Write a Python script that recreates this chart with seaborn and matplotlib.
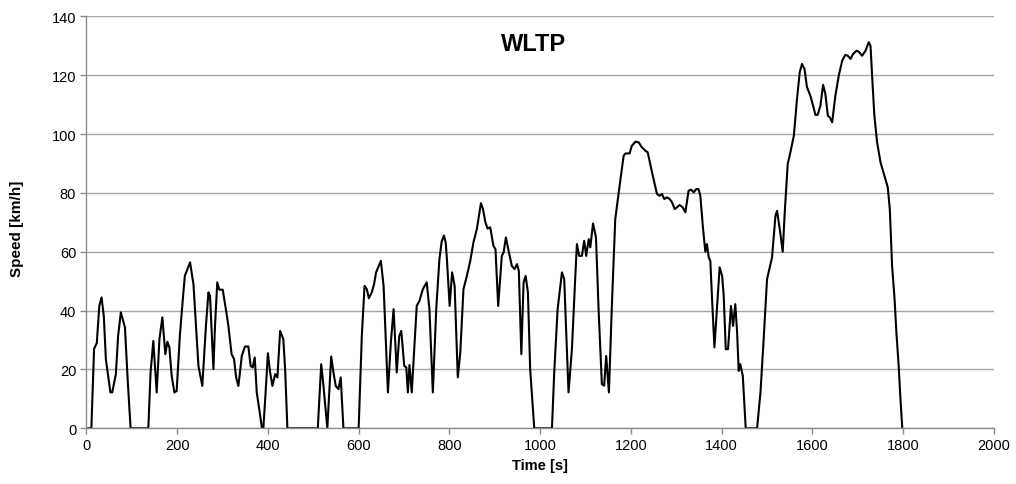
import matplotlib
matplotlib.use("Agg")
import matplotlib.pyplot as plt
import seaborn as sns
import pandas as pd

time_s = [0, 11, 17, 23, 28.5, 33.5, 38.5, 43, 48, 53, 57, 61.5, 65, 70, 76, 85, 91, 97.5,
          136.5, 141.5, 147.5, 155, 161, 167.5, 174, 178.5, 183, 188, 194, 199, 206, 212, 217,
          228.5, 236, 247, 255.5, 263.5, 269, 272.5, 280, 283.5, 288.5, 293, 300.5, 308, 313,
          320, 325.5, 330, 335, 342.5, 349.5, 357, 362, 366.5, 371, 375.5, 381, 387, 390, 395,
          400, 405, 410, 416, 421, 427, 434, 438, 443, 510, 517.5, 522.5, 531, 539.5, 544.5,
          549.5, 555.5, 560.5, 566.5, 600, 607, 613, 618, 622.5, 629, 634, 638.5, 649, 655,
          664.5, 671, 677, 684, 689.5, 694, 700.5, 705, 708.5, 712, 717, 728, 734, 741.5, 750,
          756, 763.5, 771, 778, 783, 788, 792, 794.5, 800.5, 806, 811.5, 818.5, 824, 831,
          838.5, 846, 853, 860.5, 869.5, 874, 879, 884, 890, 897, 901.5, 907.5, 915.5, 919.5,
          924.5, 930.5, 937.5, 943.5, 949, 953, 958.5, 963.5, 968, 973, 978, 987, 1026, 1031,
          1038.5, 1048, 1053, 1062.5, 1070, 1077.5, 1081, 1086, 1092, 1097, 1101.5, 1107,
          1110.5, 1116.5, 1123, 1129, 1136, 1141, 1145.5, 1151.5, 1158, 1165.5, 1176.5, 1184,
          1188, 1197, 1202, 1210, 1217, 1224, 1232, 1237, 1246.5, 1257.5, 1263, 1268.5,
          1273.5, 1279.5, 1285.5, 1290.5, 1296.5, 1301.5, 1307.5, 1314, 1320, 1327, 1332.5,
          1338.5, 1344, 1349, 1353, 1359, 1364, 1367.5, 1371.5, 1375, 1378.5, 1384, 1388.5,
          1395.5, 1401, 1404.5, 1409, 1414, 1417.5, 1420.5, 1425, 1430, 1434, 1437.5, 1441,
          1446.5, 1453, 1478, 1485.5, 1492.5, 1500, 1511, 1518.5, 1522, 1528, 1534.5, 1539,
          1545.5, 1551.5, 1559, 1566, 1572, 1577, 1582.5, 1588, 1595.5, 1601.5, 1606.5,
          1611.5, 1617.5, 1623.5, 1628.5, 1634, 1638, 1643.5, 1650.5, 1658, 1665.5, 1672.5,
          1678, 1684, 1689.5, 1697, 1702, 1709.5, 1717, 1724, 1728, 1731.5, 1736.5, 1742.5,
          1750, 1758.5, 1766, 1770.5, 1775.5, 1781, 1785, 1790, 1794, 1798]

speed_kmh = [0, 0, 27, 29, 41.6, 44.5, 38, 23.5, 17.8, 12.2, 12.2, 15.6, 18.4, 31.4, 39.4, 34.3,
             16.7, 0, 0, 19, 29.7, 12.2, 30.3, 37.7, 25.2, 29.4, 27.5, 17.8, 12.2, 12.7, 31.4,
             42.8, 51.8, 56.4, 49, 21.2, 14.4, 34.8, 46.2, 45, 20.1, 34.8, 49.6, 47.1, 47.1,
             39.9, 34.8, 25.2, 23.5, 17.3, 14.4, 24.6, 27.8, 27.8, 21.2, 20.7, 24.1, 12.2, 6.5,
             0, 0, 12.2, 25.5, 19, 14.4, 18.4, 17.3, 33.1, 30.3, 20.1, 0, 0, 21.8, 14.4, 0, 24.4,
             19, 14.4, 13.3, 17.3, 0, 0, 31.4, 48.4, 47.3, 44.2, 46.2, 49, 53, 56.9, 48.4, 12.2,
             29.2, 40.5, 19, 31.4, 33.1, 21.2, 20.7, 12.2, 21.5, 12.2, 41.6, 43.3, 47.3, 49.6,
             40.5, 12.2, 40.5, 57.5, 63.5, 65.5, 63, 57.5, 41.6, 53, 48.4, 17.3, 25.8, 47.3,
             51.8, 56.9, 63.2, 67.7, 76.5, 74.5, 70.2, 67.9, 68.3, 62, 60.9, 41.6, 58.6, 59.8,
             64.9, 60.3, 55.2, 54.1, 55.8, 53.5, 25.2, 49.6, 51.8, 46.2, 20.1, 0, 0, 19, 40.5,
             53, 50.7, 12.2, 26.9, 51.8, 62.6, 58.6, 58.6, 63.7, 58.6, 64.3, 61.5, 69.6, 64.9,
             39.4, 15, 14.5, 24.6, 12.2, 41.6, 71.1, 84.1, 92.6, 93.4, 93.4, 96, 97.4, 97.2,
             95.5, 94.3, 93.8, 87, 79.6, 79, 79.6, 77.9, 78.5, 77.9, 76.8, 74.5, 75.1, 75.9,
             75.1, 73.4, 80.7, 81.1, 80.2, 81.3, 81.3, 79, 67.7, 60, 62.6, 58.1, 56.9, 45, 27.5,
             38.2, 54.7, 51.8, 45, 26.9, 26.9, 34.8, 41.6, 34.8, 42.2, 32.6, 19.5, 21.8, 17.9,
             0, 0, 12.2, 30.3, 50.7, 58.1, 72.2, 73.9, 67.7, 60, 73.4, 89.8, 93.8, 99.4, 111.9,
             121, 123.8, 122.1, 115.9, 113, 109.6, 106.5, 106.5, 109.6, 116.7, 113.6, 106.2,
             105.7, 104, 113, 119.8, 124.9, 126.9, 126.6, 125.5, 127.2, 128.3, 128, 126.6,
             128.3, 131.2, 130, 119.8, 106.2, 97.2, 90.4, 85.9, 81.9, 74.5, 55.3, 43.9, 32.6,
             21.3, 9.9, 0]

x_ticks = [0, 200, 400, 600, 800, 1000, 1200, 1400, 1600, 1800, 2000]
y_ticks = [0, 20, 40, 60, 80, 100, 120, 140]
title_text = "WLTP"
x_label = "Time [s]"
y_label = "Speed [km/h]"

df = pd.DataFrame({"Time": time_s, "Speed": speed_kmh})

sns.set_style("white")
plt.rcParams["font.family"] = ["Liberation Sans", "DejaVu Sans"]
plt.rcParams["text.color"] = "black"
plt.rcParams["axes.labelcolor"] = "black"

fig = plt.figure(figsize=(10.16, 4.85), dpi=100)
ax = fig.add_axes([0.085, 0.1148, 0.8933, 0.8495])

sns.lineplot(data=df, x="Time", y="Speed", ax=ax, color="black", linewidth=1.5,
             estimator=None, sort=False)

ax.set_xlim(0, 2000)
ax.set_ylim(0, 140)
ax.set_xticks(x_ticks)
ax.set_yticks(y_ticks)
ax.yaxis.grid(True, color="#a6a6a6", linewidth=1.0)
ax.xaxis.grid(False)
ax.set_axisbelow(True)
for s in ["top", "right"]:
    ax.spines[s].set_visible(False)
for s in ["left", "bottom"]:
    ax.spines[s].set_color("#8c8c8c")
    ax.spines[s].set_linewidth(1.0)
ax.tick_params(axis="both", direction="out", length=4.3, width=1, color="#8c8c8c",
               labelsize=10.5, labelcolor="black", bottom=True, left=True, pad=3)
ax.set_xlabel(x_label, fontsize=10.5, fontweight="bold", labelpad=4, color="black")
ax.set_ylabel(y_label, fontsize=11, fontweight="bold", color="black")
ax.yaxis.set_label_coords(-0.069, 0.487)
ax.text(0.493, 0.962, title_text, transform=ax.transAxes, ha="center", va="top",
        fontsize=17, fontweight="bold", color="black")

fig.savefig("out.png", dpi=100)
